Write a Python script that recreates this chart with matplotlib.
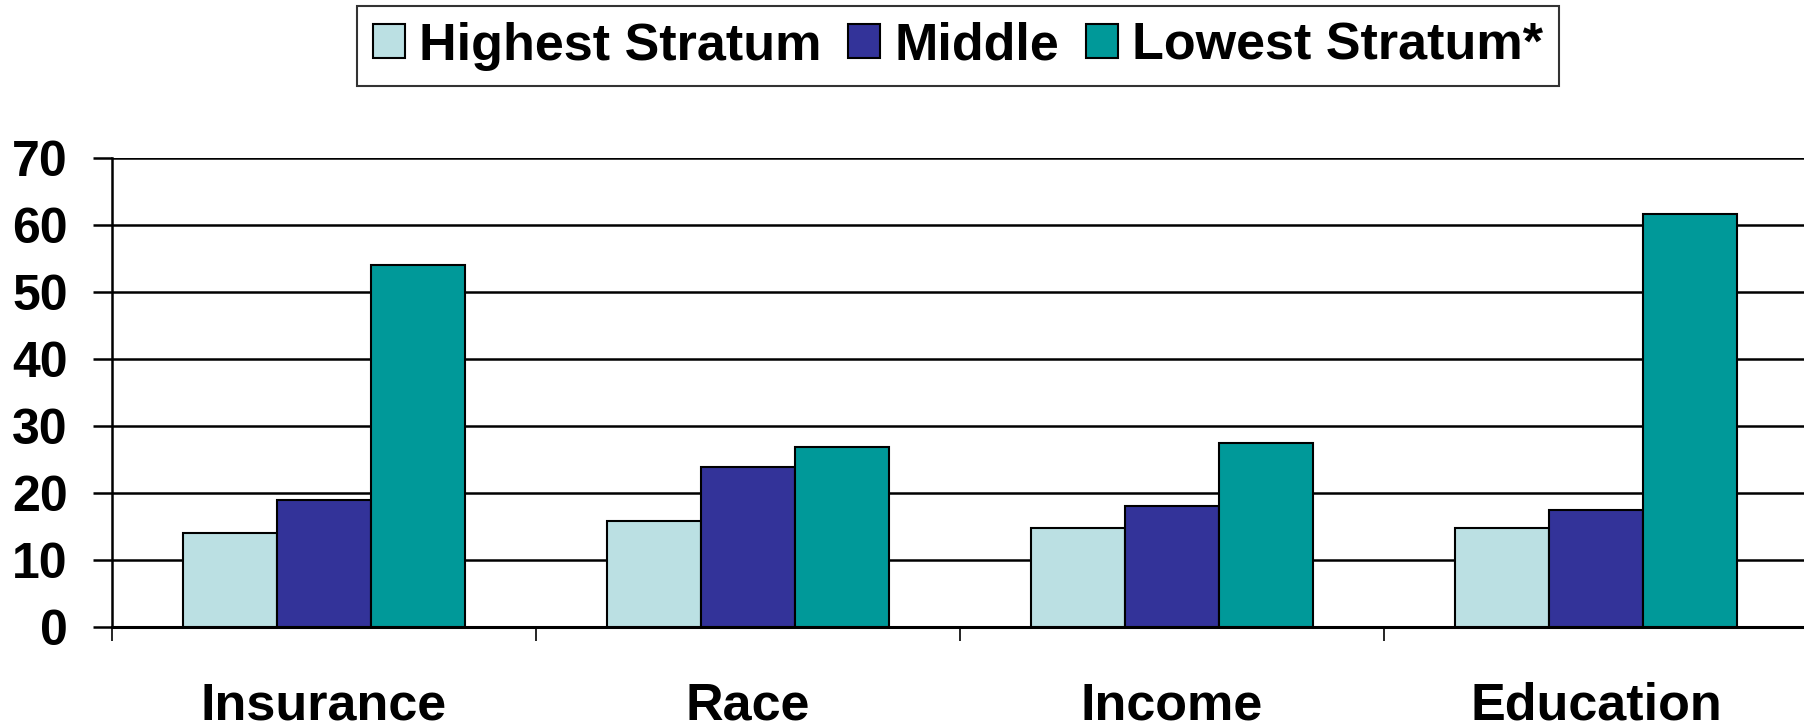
import matplotlib.pyplot as plt
import numpy as np

plt.rcParams["font.family"] = ["Liberation Sans", "DejaVu Sans"]
plt.rcParams["font.weight"] = "bold"

categories = ["Insurance", "Race", "Income", "Education"]
series_names = ["Highest Stratum", "Middle", "Lowest Stratum*"]
highest = [14.1, 15.8, 14.8, 14.8]
middle = [19.0, 23.9, 18.1, 17.4]
lowest = [54.0, 26.9, 27.5, 61.6]
colors = ["#BBE0E3", "#333399", "#009999"]
yticks = [0, 10, 20, 30, 40, 50, 60, 70]

fig = plt.figure(figsize=(18.04, 7.27), dpi=100)
ax = fig.add_axes([112 / 1804, 100 / 727, 1696 / 1804, 469 / 727])

x = np.arange(len(categories))
w = 1 / 4.5
for k, (vals, name) in enumerate(zip([highest, middle, lowest], series_names)):
    ax.bar(x + (k - 1) * w, vals, w, color=colors[k], edgecolor="black",
           linewidth=1.5, label=name, zorder=3)

ax.set_xlim(-0.5, 3.5)
ax.set_ylim(0, 70)
ax.set_yticks(yticks)
ax.yaxis.grid(True, color="black", linewidth=1.8, zorder=0)
ax.set_axisbelow(True)

# category separators as major ticks, labels on minor ticks at the centres
ax.set_xticks(np.arange(-0.5, 4.0, 1.0))
ax.set_xticklabels([])
ax.set_xticks(x, minor=True)
ax.set_xticklabels(categories, minor=True, fontsize=37.5, fontweight="bold")
ax.tick_params(axis="x", which="major", length=10, width=1.2, direction="out")
ax.tick_params(axis="x", which="minor", length=0, pad=39)
ax.tick_params(axis="y", length=14, width=1.8, pad=18, labelsize=36)
for lab in ax.get_yticklabels():
    lab.set_fontweight("bold")

for s in ["top", "right"]:
    ax.spines[s].set_visible(False)
ax.spines["left"].set_linewidth(1.8)
ax.spines["bottom"].set_linewidth(2.2)

leg = fig.legend(loc="upper center", bbox_to_anchor=(958 / 1804, 721 / 727), ncol=3,
                 frameon=True, fancybox=False, edgecolor="black",
                 prop={"size": 37.5, "weight": "bold"},
                 handlelength=0.62, handleheight=0.62, handletextpad=0.28,
                 columnspacing=0.5, borderpad=0.3, borderaxespad=0)
leg.get_frame().set_linewidth(1.5)

plt.savefig("out.png", dpi=100)
plt.close()
